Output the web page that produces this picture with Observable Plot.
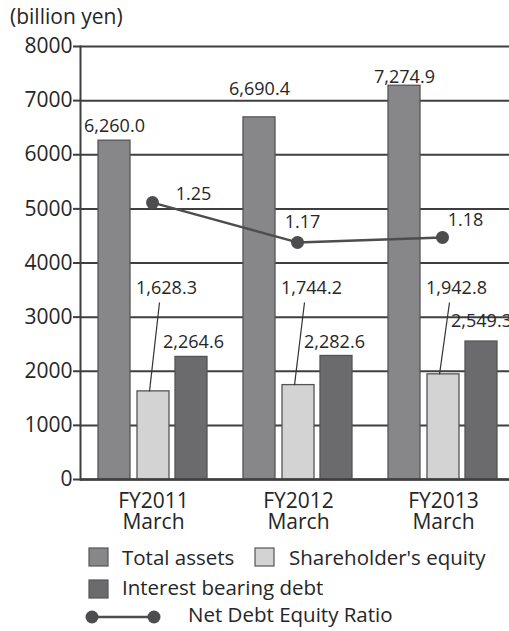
<!DOCTYPE html>
<html>
<head>
<meta charset="utf-8">
<script src="https://cdn.jsdelivr.net/npm/d3@7"></script>
<script src="https://cdn.jsdelivr.net/npm/@observablehq/plot@0.6"></script>
<style>
  html, body { margin: 0; padding: 0; background: #fff; overflow: hidden; }
  #page { width: 509px; height: 631px; position: relative; overflow: hidden; font-family: 'Open Sans', sans-serif; color: #262626; }
  #title { position: relative; height: 26px; }
  #title span { position: absolute; left: 10px; top: 6px; font-size: 21px; line-height: 21px; white-space: nowrap; }
  #chart svg, #legend svg { display: block; }
</style>
</head>
<body>
<div id="page">
  <div id="title"><span>(billion yen)</span></div>
  <div id="chart"></div>
  <div id="legend"></div>
</div>
<script>
// ---- data ----
const years = ["FY2011\nMarch", "FY2012\nMarch", "FY2013\nMarch"];
const totalAssets = [6260.0, 6690.4, 7274.9];
const shareholdersEquity = [1628.3, 1744.2, 1942.8];
const interestBearingDebt = [2264.6, 2282.6, 2549.3];
const netDebtEquityRatio = [1.25, 1.17, 1.18];
const yTicks = [0, 1000, 2000, 3000, 4000, 5000, 6000, 7000, 8000];
const seriesNames = ["Total assets", "Shareholder's equity", "Interest bearing debt", "Net Debt Equity Ratio"];

// ---- styling / layout ----
const colAssets = "#87878a", colEquity = "#d3d3d4", colDebt = "#6b6b6d";
const colBorder = "#555557", colLine = "#4d4d4f", colGrid = "#3f3f3f", colText = "#262626";
const offAssets = -39, offDebt = 38;
// hidden secondary scale for the ratio line (plotted against the left axis units)
const ratioToLeft = d3.scaleLinear().domain([0.6934, 1.5638]).range([0, 8000]);
const equityLabelLevel = 3540, equityLeaderTop = 3270;
const assetsNudge = [-14, -28, -9];
const debtNudge = [-15, -14, -20];
const debtDx = [40, 36, 38];
const ratioNudge = [[40, -8], [4, -20], [22, -17]];

const fmt = d3.format(",.1f");
const data = years.map((year, i) => ({
  year,
  assets: totalAssets[i],
  equity: shareholdersEquity[i],
  debt: interestBearingDebt[i],
  ratio: netDebtEquityRatio[i]
}));

const textStyle = {fontSize: 18, fill: colText};

const marks = [
  Plot.ruleY(yTicks, {stroke: colGrid, strokeWidth: 2}),
  Plot.axisY(yTicks, {tickSize: 7, tickPadding: 1, fontSize: 21, stroke: colGrid, strokeWidth: 2, label: null, tickFormat: d => String(d)}),
  Plot.axisX({tickSize: 0, tickPadding: 13, fontSize: 21, label: null, lineHeight: 1.03}),
  Plot.barY(data, {x: "year", y: "assets", dx: offAssets, fill: colAssets, stroke: colBorder, strokeWidth: 1.3}),
  Plot.barY(data, {x: "year", y: "equity", fill: colEquity, stroke: colBorder, strokeWidth: 1.3}),
  Plot.barY(data, {x: "year", y: "debt", dx: offDebt, fill: colDebt, stroke: colBorder, strokeWidth: 1.3}),
  Plot.frame({anchor: "left", stroke: colGrid, strokeWidth: 2}),
  Plot.ruleY([0], {stroke: colGrid, strokeWidth: 2.5}),
  // leaders for equity labels
  Plot.link(data, {
    x1: "year", x2: "year", y1: "equity", y2: () => equityLeaderTop,
    stroke: "#333", strokeWidth: 1.2,
    render(index, scales, values, dimensions, context, next) {
      const x1 = Array.from(values.x1, v => v - 4);
      const x2 = Array.from(values.x2, v => v + 6);
      return next(index, scales, {...values, x1, x2}, dimensions, context);
    }
  }),
  Plot.text(data, {x: "year", y: () => equityLabelLevel, dx: 13, text: d => fmt(d.equity), ...textStyle}),
  ...data.map((d, i) => Plot.text([d], {x: "year", y: "assets", dx: offAssets, dy: assetsNudge[i], text: d => fmt(d.assets), ...textStyle})),
  ...data.map((d, i) => Plot.text([d], {x: "year", y: "debt", dx: debtDx[i], dy: debtNudge[i], text: d => fmt(d.debt), ...textStyle})),
  // ratio line
  Plot.line(data, {x: "year", y: d => ratioToLeft(d.ratio), dx: -1, stroke: colLine, strokeWidth: 2.5}),
  Plot.dot(data, {x: "year", y: d => ratioToLeft(d.ratio), dx: -1, r: 6.5, fill: colLine, stroke: "none"}),
  ...data.map((d, i) => Plot.text([d], {x: "year", y: d => ratioToLeft(d.ratio), dx: ratioNudge[i][0], dy: ratioNudge[i][1], text: d => d.ratio.toFixed(2), ...textStyle}))
];

const chart = Plot.plot({
  width: 509,
  height: 513,
  marginLeft: 80,
  marginRight: -6,
  marginTop: 20,
  marginBottom: 60,
  style: {fontFamily: "'Open Sans', sans-serif", color: colText, background: "white"},
  x: {domain: years, paddingInner: 0.782, paddingOuter: 0.391},
  y: {domain: [0, 8000]},
  marks
});
document.getElementById("chart").appendChild(chart);

// ---- legend ----
const lg = d3.select("#legend").append("svg")
  .attr("width", 509).attr("height", 92)
  .style("font-family", "'Open Sans', sans-serif")
  .style("font-size", "20.5px")
  .attr("fill", colText);

const swatches = [
  {name: seriesNames[0], fill: colAssets, x: 89, y: 9, tx: 122, ty: 26},
  {name: seriesNames[1], fill: colEquity, x: 255, y: 9, tx: 289, ty: 26},
  {name: seriesNames[2], fill: colDebt, x: 89, y: 41, tx: 122, ty: 56}
];
for (const s of swatches) {
  lg.append("rect").attr("x", s.x).attr("y", s.y).attr("width", 19).attr("height", 18)
    .attr("fill", s.fill).attr("stroke", colBorder).attr("stroke-width", 1.2);
  lg.append("text").attr("x", s.tx).attr("y", s.ty).text(s.name);
}
lg.append("line").attr("x1", 92).attr("x2", 154).attr("y1", 78).attr("y2", 78)
  .attr("stroke", colLine).attr("stroke-width", 2.5);
for (const cx of [92, 154]) {
  lg.append("circle").attr("cx", cx).attr("cy", 78).attr("r", 6.5).attr("fill", colLine);
}
lg.append("text").attr("x", 188).attr("y", 83).text(seriesNames[3]);
</script>
</body>
</html>
